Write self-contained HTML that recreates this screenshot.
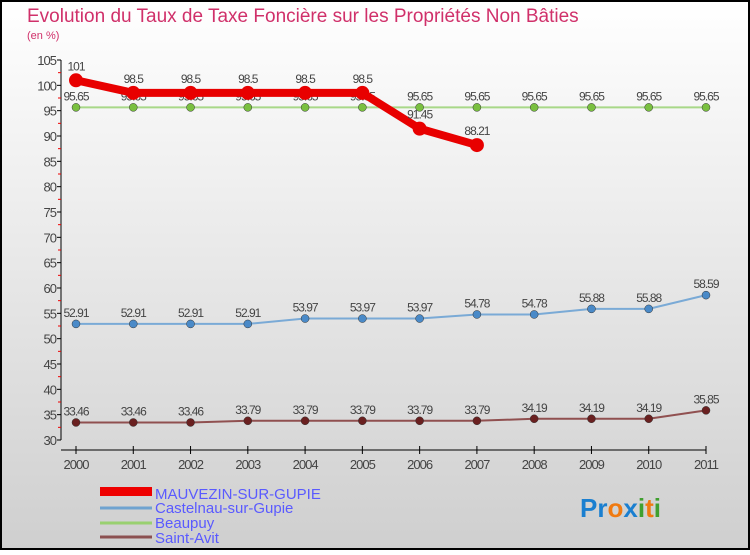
<!DOCTYPE html>
<html><head><meta charset="utf-8"><style>
body{margin:0;width:750px;height:550px;overflow:hidden;font-family:"Liberation Sans",sans-serif}
</style></head><body>
<svg width="750" height="550">
<defs><linearGradient id="bg" x1="0" y1="0" x2="0" y2="1"><stop offset="0" stop-color="#ffffff"/><stop offset="1" stop-color="#cfcfcf"/></linearGradient></defs>
<rect x="1" y="1" width="748" height="548" fill="url(#bg)" stroke="#000" stroke-width="2"/>
<text x="27" y="22" font-size="19" fill="#d0306a">Evolution du Taux de Taxe Foncière sur les Propriétés Non Bâties</text>
<text x="27" y="39" font-size="11" fill="#d0306a">(en %)</text>
<g id="axes"></g><g id="series"></g>
<g>
<rect x="100" y="487" width="52" height="9" fill="#e00"/>
<text x="155" y="499" font-size="15" fill="#5a5aff">MAUVEZIN-SUR-GUPIE</text>
<line x1="100" y1="508" x2="152" y2="508" stroke="#6fa3d0" stroke-width="3"/>
<text x="155" y="513" font-size="15" fill="#5a5aff">Castelnau-sur-Gupie</text>
<line x1="100" y1="523" x2="152" y2="523" stroke="#99d070" stroke-width="3"/>
<text x="155" y="528" font-size="15" fill="#5a5aff">Beaupuy</text>
<line x1="100" y1="537" x2="152" y2="537" stroke="#8b5050" stroke-width="3"/>
<text x="155" y="543" font-size="15" fill="#5a5aff">Saint-Avit</text>
</g>
<text x="580" y="517" font-size="26" font-weight="bold"><tspan fill="#1a7fd0">Pr</tspan><tspan fill="#f07a10">o</tspan><tspan fill="#1a7fd0">x</tspan><tspan fill="#40a030">i</tspan><tspan fill="#f07a10">t</tspan><tspan fill="#40a030">i</tspan></text>
</svg>
<script>
const years=["2000","2001","2002","2003","2004","2005","2006","2007","2008","2009","2010","2011"];
const yTicks=[30,35,40,45,50,55,60,65,70,75,80,85,90,95,100,105];
const mauvezin=[101,98.5,98.5,98.5,98.5,98.5,91.45,88.21];
const castelnau=[52.91,52.91,52.91,52.91,53.97,53.97,53.97,54.78,54.78,55.88,55.88,58.59];
const beaupuy=[95.65,95.65,95.65,95.65,95.65,95.65,95.65,95.65,95.65,95.65,95.65,95.65];
const saintAvit=[33.46,33.46,33.46,33.79,33.79,33.79,33.79,33.79,34.19,34.19,34.19,35.85];
const NS="http://www.w3.org/2000/svg";
const x=i=>76+i*(706-76)/11;
const y=v=>440-(v-30)*(380/75);
function mk(t,a,p){const e=document.createElementNS(NS,t);for(const k in a)e.setAttribute(k,a[k]);p.appendChild(e);return e;}
const ax=document.getElementById('axes');
const yl=mk('line',{x1:61,y1:60,x2:61,y2:440,stroke:'#000'},ax);


const xl=mk('line',{x1:61,y1:450,x2:706,y2:450,stroke:'#000'},ax);


yTicks.forEach(v=>{mk('line',{x1:57,y1:y(v),x2:61,y2:y(v),stroke:'#000'},ax);
 if(v<105)mk('line',{x1:58,y1:y(v+2.5),x2:61,y2:y(v+2.5),stroke:'#e00'},ax);
 const t=mk('text',{x:56,y:y(v)+5,'text-anchor':'end','font-size':13,fill:'#444','letter-spacing':'-1'},ax);t.textContent=v;
 
 });
years.forEach((yr,i)=>{mk('line',{x1:x(i),y1:446,x2:x(i),y2:454,stroke:'#000'},ax);
 const t=mk('text',{x:x(i),y:469,'text-anchor':'middle','font-size':13,fill:'#444','letter-spacing':'-1'},ax);t.textContent=yr;
 
 });
const sg=document.getElementById('series');
function draw(data,color,lw,r,dot,name,labOff){
 const g=mk('g',{},sg);
 
 
 mk('polyline',{points:data.map((v,i)=>x(i)+','+y(v)).join(' '),fill:'none',stroke:color,'stroke-width':lw,'stroke-linejoin':'round'},g);
 data.forEach((v,i)=>{const c=mk('circle',{cx:x(i),cy:y(v),r:r,fill:dot,stroke:'#333','stroke-width':r>5?0:0.5},g);
  
  
  const t=mk('text',{x:x(i),y:y(v)-labOff,'text-anchor':'middle','font-size':12,fill:'#444','letter-spacing':'-1'},g);t.textContent=String(v);});
}
draw(beaupuy,'#a8d888',2,4,'#7ac040','series-beaupuy',7);
draw(castelnau,'#7aaad6',2,4,'#4a8ac8','series-castelnau',7);
draw(saintAvit,'#905050',2,4,'#6a2020','series-saint-avit',7);
draw(mauvezin,'#e80000',8,7,'#e80000','series-mauvezin',10);
</script>
</body></html>
